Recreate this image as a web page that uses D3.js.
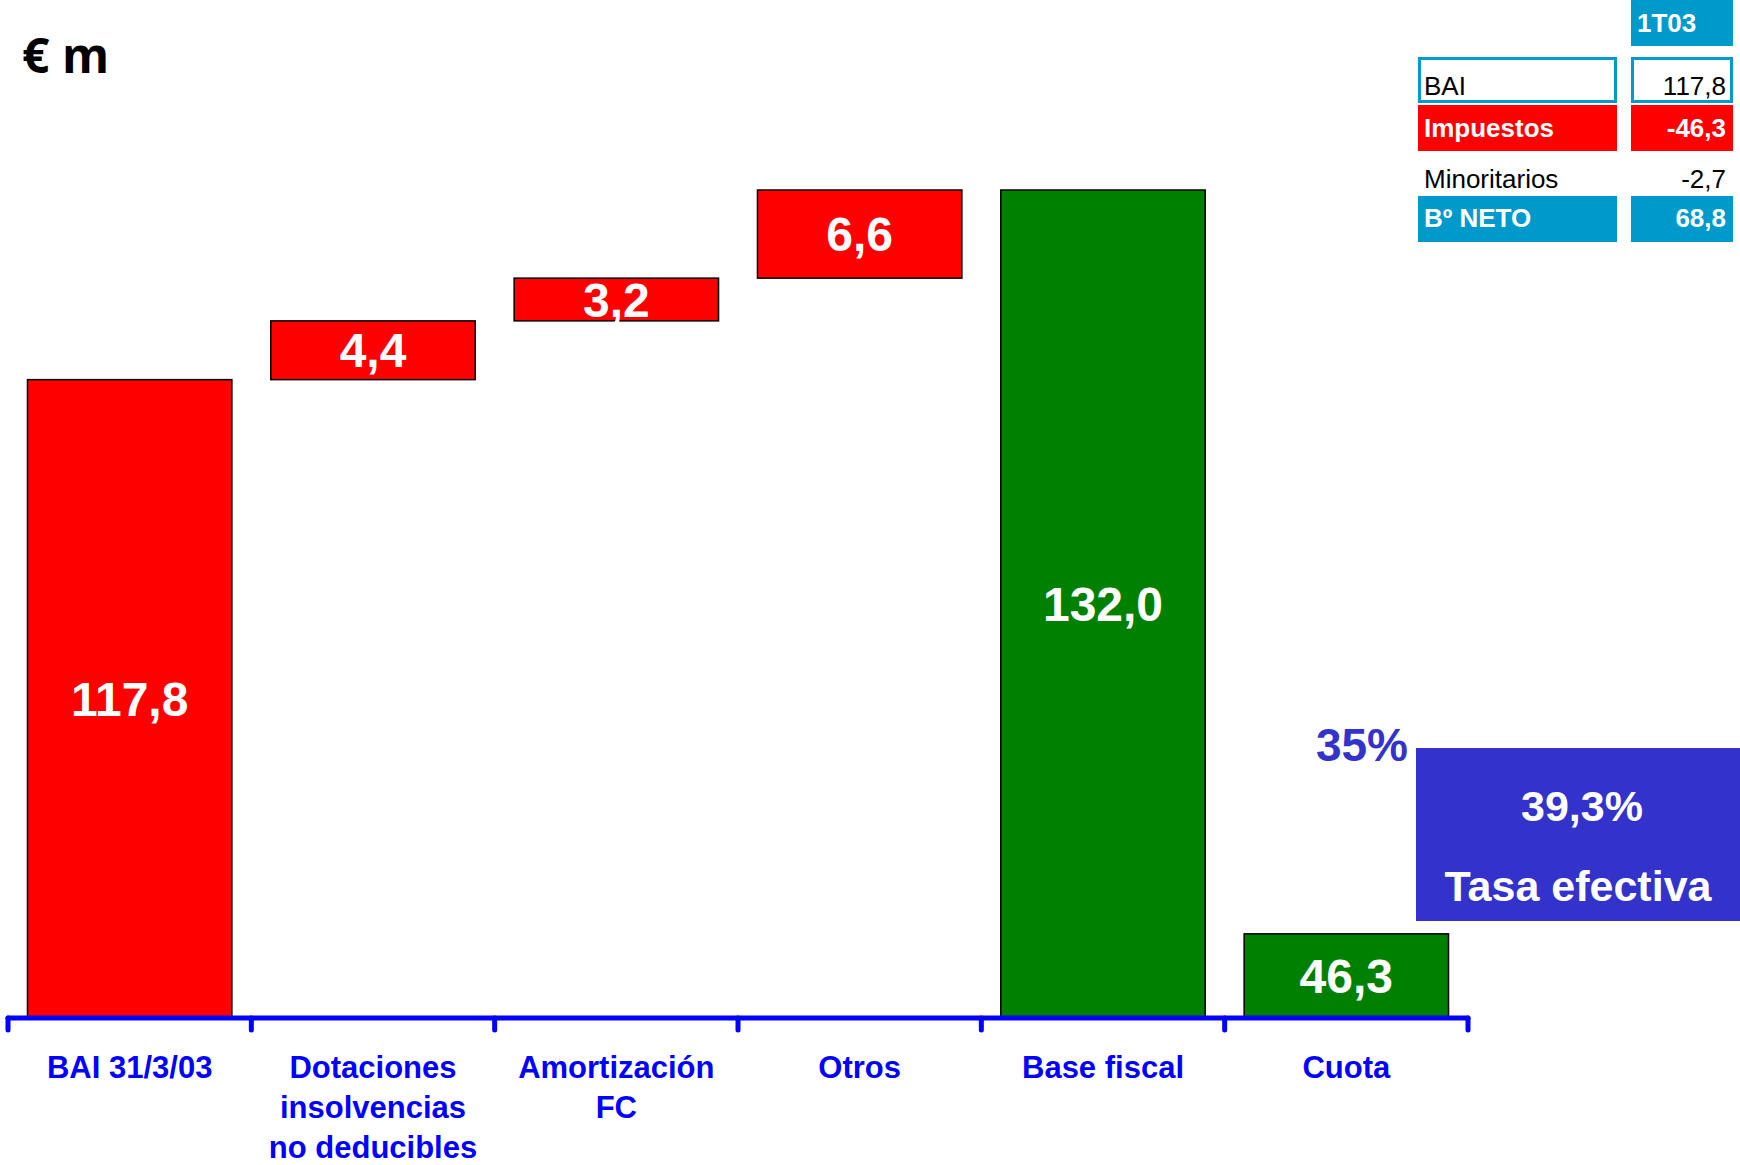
<!DOCTYPE html>
<html>
<head>
<meta charset="utf-8">
<script src="https://cdn.jsdelivr.net/npm/d3@7"></script>
<style>
  body { margin: 0; background: #fff; }
  text { font-family: Arial, "Liberation Sans", sans-serif; }
</style>
</head>
<body>
<svg width="1740" height="1165"></svg>
<script>
// data
const categories = ['BAI 31/3/03', 'Dotaciones insolvencias no deducibles', 'Amortización FC', 'Otros', 'Base fiscal', 'Cuota'];
const categoryLines = [['BAI 31/3/03'], ['Dotaciones', 'insolvencias', 'no deducibles'], ['Amortización', 'FC'], ['Otros'], ['Base fiscal'], ['Cuota']];
const values = [117.8, 4.4, 3.2, 6.6, 132.0, 46.3];
const kinds = ['total', 'step', 'step', 'step', 'total', 'total'];
// the picture's axis starts at 70; the Cuota bar is drawn as if it reached 76.3 on it
const drawnValues = [117.8, 4.4, 3.2, 6.6, 132.0, 76.3];
const axisStart = 70;

const tableHeader = '1T03';
const tableRows = ['BAI', 'Impuestos', 'Minoritarios', 'Bº NETO'];
const tableValues = [117.8, -46.3, -2.7, 68.8];

const statutoryRate = '35%';
const effectiveRate = 39.3;
const effectiveLabel = 'Tasa efectiva';
const unitTitle = '€ m';

const svg = d3.select('svg');
const red = '#ff0000';
const green = '#008000';
const blue = '#0000ff';
const teal = '#0099cc';
const violet = '#3333cc';

const locale = d3.formatLocale({ decimal: ',', thousands: '.', grouping: [3], currency: ['', '€'], minus: '-' });
const fmt = locale.format('.1f');

// waterfall levels
let running = 0;
const bars = categories.map((c, i) => {
    let lo, hi;
    if (kinds[i] === 'step') {
        lo = running;
        hi = running + drawnValues[i];
        running = hi;
    } else {
        lo = axisStart;
        hi = drawnValues[i];
        running = drawnValues[i];
    }
    return { cat: c, lo, hi, value: values[i], color: i < 4 ? red : green };
});

const x = d3.scaleBand()
    .domain(categories)
    .range([8, 1468])
    .paddingInner(0.16)
    .paddingOuter(0.08);

const y = d3.scaleLinear()
    .domain([axisStart, 132])
    .range([1018, 190]);

// title
svg.append('text')
    .attr('x', 22)
    .attr('y', 73)
    .style('font-family', '"Open Sans", sans-serif')
    .style('font-weight', 'bold')
    .style('font-size', '48px')
    .text(unitTitle);

// bars
svg.append('g')
    .selectAll('rect')
    .data(bars)
    .join('rect')
        .attr('x', d => x(d.cat))
        .attr('y', d => y(d.hi))
        .attr('width', x.bandwidth())
        .attr('height', d => y(d.lo) - y(d.hi))
        .attr('fill', d => d.color)
        .attr('stroke', '#000')
        .attr('stroke-width', 1.5);

svg.append('g')
    .selectAll('text')
    .data(bars)
    .join('text')
        .attr('x', d => x(d.cat) + x.bandwidth() / 2)
        .attr('y', d => (y(d.lo) + y(d.hi)) / 2 + 17)
        .attr('text-anchor', 'middle')
        .attr('fill', '#fff')
        .style('font-weight', 'bold')
        .style('font-size', '48px')
        .text(d => fmt(d.value));

// axis: line with ticks at band boundaries
const [r0, r1] = x.range();
const boundaries = d3.range(categories.length + 1).map(i => r0 + i * x.step());
const axisG = svg.append('g').attr('stroke', blue).attr('stroke-linecap', 'round');
axisG.append('line')
    .attr('x1', r0).attr('x2', r1)
    .attr('y1', y(axisStart)).attr('y2', y(axisStart))
    .attr('stroke-width', 5);
axisG.selectAll('line.tick')
    .data(boundaries)
    .join('line')
        .attr('class', 'tick')
        .attr('x1', d => d).attr('x2', d => d)
        .attr('y1', y(axisStart)).attr('y2', y(axisStart) + 12)
        .attr('stroke-width', 5);

const labelG = svg.append('g')
    .selectAll('text')
    .data(categories)
    .join('text')
        .attr('x', d => x(d) + x.bandwidth() / 2)
        .attr('y', 1078)
        .attr('text-anchor', 'middle')
        .attr('fill', blue)
        .style('font-weight', 'bold')
        .style('font-size', '31px');
labelG.selectAll('tspan')
    .data((d, i) => categoryLines[i])
    .join('tspan')
        .attr('x', function() { return this.parentNode.getAttribute('x'); })
        .attr('dy', (d, i) => i === 0 ? 0 : 40)
        .text(d => d);

// tax rates
svg.append('text')
    .attr('x', 1408)
    .attr('y', 761)
    .attr('text-anchor', 'end')
    .attr('fill', violet)
    .style('font-weight', 'bold')
    .style('font-size', '46px')
    .text(statutoryRate);

svg.append('rect')
    .attr('x', 1416).attr('y', 748)
    .attr('width', 324).attr('height', 173)
    .attr('fill', violet);
svg.append('text')
    .attr('x', 1582).attr('y', 821)
    .attr('text-anchor', 'middle')
    .attr('fill', '#fff')
    .style('font-weight', 'bold')
    .style('font-size', '43px')
    .text(fmt(effectiveRate) + '%');
svg.append('text')
    .attr('x', 1578).attr('y', 901)
    .attr('text-anchor', 'middle')
    .attr('fill', '#fff')
    .style('font-weight', 'bold')
    .style('font-size', '43px')
    .text(effectiveLabel);

// results table
const tbl = svg.append('g');
const rowTop = [57, 105, 151, 196];
const rowBase = [95, 137, 188, 227];
const rowFill = ['#fff', red, 'none', teal];
const rowBold = [false, true, false, true];
const labelX = 1418, labelW = 199, valX = 1631, valW = 102, rowH = 46;

tbl.append('rect')
    .attr('x', valX).attr('y', 0)
    .attr('width', valW).attr('height', 46)
    .attr('fill', teal);
tbl.append('text')
    .attr('x', 1637).attr('y', 32)
    .attr('fill', '#fff')
    .style('font-weight', 'bold')
    .style('font-size', '26px')
    .text(tableHeader);

tableRows.forEach((r, i) => {
    const border = i === 0;
    [[labelX, labelW], [valX, valW]].forEach(([bx, bw]) => {
        tbl.append('rect')
            .attr('x', border ? bx + 1.5 : bx)
            .attr('y', border ? rowTop[i] + 1.5 : rowTop[i])
            .attr('width', border ? bw - 3 : bw)
            .attr('height', border ? rowH - 3 : rowH)
            .attr('fill', rowFill[i])
            .attr('stroke', border ? teal : 'none')
            .attr('stroke-width', 3);
    });
    const col = rowBold[i] ? '#fff' : '#000';
    tbl.append('text')
        .attr('x', 1424).attr('y', rowBase[i])
        .attr('fill', col)
        .style('font-weight', rowBold[i] ? 'bold' : 'normal')
        .style('font-size', '26px')
        .text(r);
    tbl.append('text')
        .attr('x', 1726).attr('y', rowBase[i])
        .attr('text-anchor', 'end')
        .attr('fill', col)
        .style('font-weight', rowBold[i] ? 'bold' : 'normal')
        .style('font-size', '26px')
        .text(fmt(tableValues[i]));
});
</script>
</body>
</html>
